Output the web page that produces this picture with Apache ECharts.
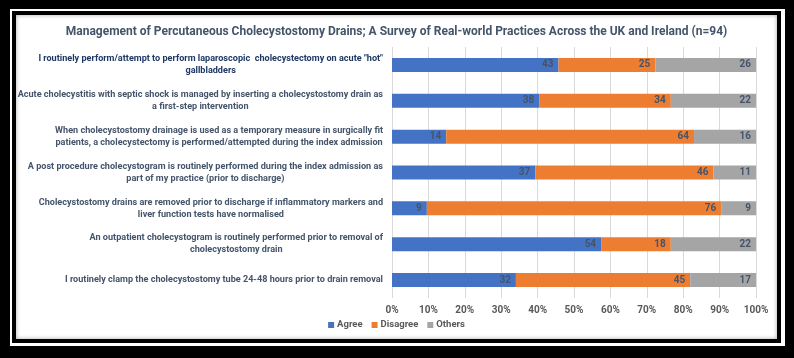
<!DOCTYPE html>
<html>
<head>
<meta charset="utf-8">
<script src="https://cdn.jsdelivr.net/npm/echarts@6/dist/echarts.min.js"></script>
<style>
  html, body { margin: 0; padding: 0; background: #000; }
  body { width: 794px; height: 358px; position: relative; overflow: hidden; }
  #outerLine { position: absolute; left: 10px; top: 9px; width: 775px; height: 337px; background: #fff; }
  #innerLine { position: absolute; left: 12px; top: 11px; width: 769px; height: 332px; background: #000; }
  #chart { position: absolute; left: 16px; top: 15px; width: 761px; height: 324px; background: #fff;
           box-shadow: inset 0 0 4px rgba(0,0,0,0.35); }
</style>
</head>
<body>
<div id="outerLine"></div>
<div id="innerLine"></div>
<div id="chart"></div>
<script>
const titleText = 'Management of Percutaneous Cholecystostomy Drains; A Survey of Real-world Practices Across the UK and Ireland (n=94)';

// survey statements, top to bottom (line breaks as in the original)
const statements = [
  'I routinely perform/attempt to perform laparoscopic  cholecystectomy on acute "hot"\ngallbladders',
  'Acute cholecystitis with septic shock is managed by inserting a cholecystostomy drain as\na first-step intervention',
  'When cholecystostomy drainage is used as a temporary measure in surgically fit\npatients, a cholecystectomy is performed/attempted during the index admission',
  'A post procedure cholecystogram is routinely performed during the index admission as\npart of my practice (prior to discharge)',
  'Cholecystostomy drains are removed prior to discharge if inflammatory markers and\nliver function tests have normalised',
  'An outpatient cholecystogram is routinely performed prior to removal of\ncholecystostomy drain',
  'I routinely clamp the cholecystostomy tube 24-48 hours prior to drain removal'
];

// respondent counts (n=94)
const agree    = [43, 38, 14, 37, 9, 54, 32];
const disagree = [25, 34, 64, 46, 76, 18, 45];
const others   = [26, 22, 16, 11, 9, 22, 17];

const seriesNames = ['Agree', 'Disagree', 'Others'];
const seriesColors = ['#4472C4', '#ED7D31', '#A5A5A5'];
const xTicks = [0, 10, 20, 30, 40, 50, 60, 70, 80, 90, 100];

const FONT = 'Roboto, "Liberation Sans", sans-serif';

const totals = agree.map((v, i) => v + disagree[i] + others[i]);
const toPct = (arr) => arr.map((v, i) => ({ value: v / totals[i] * 100, count: v }));

const chart = echarts.init(document.getElementById('chart'), null, { renderer: 'canvas' });

const seriesData = [agree, disagree, others];

chart.setOption({
  animation: false,
  textStyle: { fontFamily: FONT },
  title: {
    text: titleText,
    left: 'center',
    top: 6,
    textStyle: { fontFamily: FONT, fontSize: 12, fontWeight: 'bold', color: '#44546A' }
  },
  legend: {
    data: seriesNames,
    bottom: 4,
    left: 'center',
    itemWidth: 6,
    itemHeight: 6,
    itemGap: 9,
    icon: 'rect',
    textStyle: { fontFamily: FONT, fontSize: 9.5, fontWeight: 'bold', color: '#595959', padding: [0, 0, 0, -2] }
  },
  grid: { left: 376, right: 21, top: 32, bottom: 41, containLabel: false, outerBoundsMode: 'none' },
  xAxis: {
    type: 'value',
    min: 0,
    max: 100,
    interval: 10,
    axisLine: { show: false },
    axisTick: { show: false },
    axisLabel: {
      formatter: (v) => xTicks.includes(v) ? v + '%' : '',
      fontFamily: FONT, fontSize: 10, fontWeight: 'bold', color: '#595959', margin: 7
    },
    splitLine: { show: true, lineStyle: { color: '#D9D9D9', width: 1 } }
  },
  yAxis: {
    type: 'category',
    inverse: true,
    data: statements,
    axisLine: { show: false },
    axisTick: { show: false },
    axisLabel: {
      margin: 9,
      formatter: (val, idx) => {
        const key = idx === 0 ? 'hi' : 'c';
        return val.split('\n').map((line) => '{' + key + '|' + line + '}').join('\n');
      },
      rich: {
        c:  { align: 'center', fontFamily: FONT, fontSize: 9.1, fontWeight: 'bold', color: '#44546A', lineHeight: 12 },
        hi: { align: 'center', fontFamily: FONT, fontSize: 9.1, fontWeight: 'bold', color: '#1F3864', lineHeight: 12 }
      }
    }
  },
  series: seriesData.map((arr, i) => ({
    name: seriesNames[i],
    type: 'bar',
    stack: 'total',
    barWidth: 14,
    data: toPct(arr),
    itemStyle: { color: seriesColors[i] },
    label: {
      show: true,
      position: 'insideRight',
      distance: 5,
      formatter: (p) => p.data.count,
      fontFamily: FONT,
      fontSize: 10,
      fontWeight: 'bold',
      color: '#44546A'
    }
  }))
});
</script>
</body>
</html>
